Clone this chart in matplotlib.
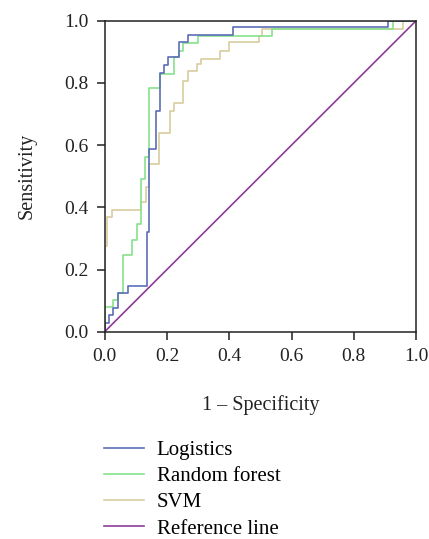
import matplotlib
matplotlib.use('Agg')
import matplotlib.pyplot as plt

plt.rcParams['font.family'] = ['Liberation Serif', 'DejaVu Serif']

# ROC step points (fpr, tpr)
log_fpr = [0, 0, 0.014, 0.028, 0.042, 0.074, 0.135, 0.143, 0.164, 0.178, 0.191, 0.204, 0.240, 0.267, 0.413, 0.909, 1.0]
log_tpr = [0, 0.027, 0.054, 0.075, 0.125, 0.147, 0.322, 0.587, 0.711, 0.832, 0.858, 0.882, 0.932, 0.955, 0.980, 1.0, 1.0]

rf_fpr = [0, 0, 0.026, 0.042, 0.058, 0.087, 0.103, 0.116, 0.130, 0.143, 0.178, 0.224, 0.240, 0.253, 0.299, 0.536, 0.927, 1.0]
rf_tpr = [0, 0.080, 0.102, 0.125, 0.247, 0.295, 0.345, 0.490, 0.563, 0.783, 0.829, 0.882, 0.901, 0.928, 0.952, 0.974, 1.0, 1.0]

svm_fpr = [0, 0, 0.009, 0.022, 0.116, 0.133, 0.143, 0.175, 0.210, 0.223, 0.251, 0.269, 0.296, 0.308, 0.370, 0.400, 0.494, 0.506, 0.959, 1.0]
svm_tpr = [0, 0.274, 0.370, 0.392, 0.418, 0.464, 0.540, 0.638, 0.711, 0.735, 0.807, 0.837, 0.861, 0.878, 0.903, 0.930, 0.952, 0.974, 1.0, 1.0]

ref_x = [0, 1]
ref_y = [0, 1]

ticks = [0.0, 0.2, 0.4, 0.6, 0.8, 1.0]
tick_labels = ['0.0', '0.2', '0.4', '0.6', '0.8', '1.0']

fig = plt.figure(figsize=(4.29, 5.39), dpi=100)
ax = fig.add_axes([0.244, 0.3846, 0.726, 0.577])

ax.step(svm_fpr, svm_tpr, where='post', color='#d8cc9e', lw=1.2, label='SVM')
ax.step(rf_fpr, rf_tpr, where='post', color='#88e28c', lw=1.2, label='Random forest')
ax.step(log_fpr, log_tpr, where='post', color='#5a6eb6', lw=1.2, label='Logistics')
ax.plot(ref_x, ref_y, color='#8e3b98', lw=1.2, label='Reference line')

ax.set_xlim(0, 1)
ax.set_ylim(0, 1)
ax.set_xticks(ticks)
ax.set_xticklabels(tick_labels)
ax.set_yticks(ticks)
ax.set_yticklabels(tick_labels)
ax.tick_params(direction='out', length=5.5, width=1.1, labelsize=14, pad=6, colors='#222222')
for s in ax.spines.values():
    s.set_linewidth(1.1)
    s.set_color('#222222')

ax.set_xlabel('1 – Specificity', fontsize=14.5, labelpad=22, color='#222222')
ax.set_ylabel('Sensitivity', fontsize=14.5, labelpad=20, color='#222222')

h, l = ax.get_legend_handles_labels()
order = [2, 1, 0, 3]
fig.legend([h[i] for i in order], [l[i] for i in order], loc='upper left',
           bbox_to_anchor=(0.243, 0.183), frameon=False, fontsize=15,
           handlelength=1.92, handletextpad=0.6, labelspacing=0.32, borderpad=0,
           borderaxespad=0)

fig.savefig('out.png', dpi=100)
